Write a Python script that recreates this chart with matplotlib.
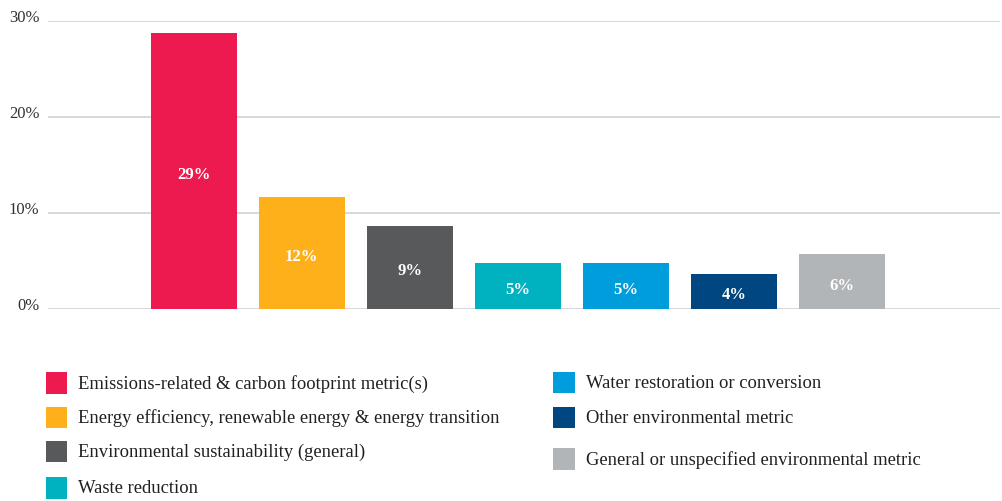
import matplotlib
matplotlib.use("Agg")
import matplotlib.pyplot as plt
from matplotlib.patches import Rectangle
from matplotlib.transforms import ScaledTranslation

categories = [
    "Emissions-related & carbon footprint metric(s)",
    "Energy efficiency, renewable energy & energy transition",
    "Environmental sustainability (general)",
    "Waste reduction",
    "Water restoration or conversion",
    "Other environmental metric",
    "General or unspecified environmental metric",
]
values = [28.8, 11.7, 8.7, 4.8, 4.8, 3.7, 5.7]
colors = ["#EC1A4F", "#FDB01A", "#58595B", "#00B2BF", "#009DDC", "#004680", "#B1B5B8"]
yticks = [0, 10, 20, 30]
ytick_labels = ["0%", "10%", "20%", "30%"]

W, H = 1002, 502
plt.rcParams["font.family"] = ["Liberation Serif", "DejaVu Serif"]

fig = plt.figure(figsize=(W / 100, H / 100), dpi=100)
fig.patch.set_facecolor("white")

left_px, right_px, top_px, zero_px = 47.7, 1000, 22.3, 310
ax = fig.add_axes([left_px / W, 1 - zero_px / H,
                   (right_px - left_px) / W, (zero_px - top_px) / H])

x = list(range(len(values)))
ax.bar(x, values, width=0.795, color=colors, zorder=3)
down = ScaledTranslation(0, -3 / 100, fig.dpi_scale_trans)
for xi, v in zip(x, values):
    ax.text(xi, v / 2, f"{v:.0f}%", ha="center", va="center",
            color="white", fontsize=12, fontweight="bold", zorder=4,
            transform=ax.transData + down)

ax.set_xlim(-1.35, 7.46)
ax.set_ylim(0, 30)
ax.set_yticks(yticks)
ax.set_yticklabels(ytick_labels)
ax.set_xticks([])
ax.grid(axis="y", color="#D3D6D9", linewidth=1.3, zorder=0)
ax.set_axisbelow(True)
for s in ax.spines.values():
    s.set_visible(False)
ax.tick_params(axis="y", length=0, pad=6, labelsize=12, labelcolor="#333333")
for lab in ax.get_yticklabels():
    lab.set_verticalalignment("baseline")
ax.patch.set_alpha(0)

# Legend: two columns of square swatches with labels
legend_slots = [
    (45.7, 384), (45.7, 418.5), (45.7, 452.5), (45.7, 489),
    (553.3, 383.5), (553.3, 418.5), (553.3, 460),
]
sw = 21.5
for (lx, ly), lab, col in zip(legend_slots, categories, colors):
    fig.patches.append(Rectangle((lx / W, 1 - (ly + sw / 2) / H), sw / W, sw / H,
                                 transform=fig.transFigure, facecolor=col,
                                 edgecolor="none", figure=fig))
    fig.text((lx + 32.5) / W, 1 - ly / H, lab, ha="left", va="center",
             fontsize=13.4, color="#231F20")

fig.savefig("out.png", dpi=100, facecolor="white")
